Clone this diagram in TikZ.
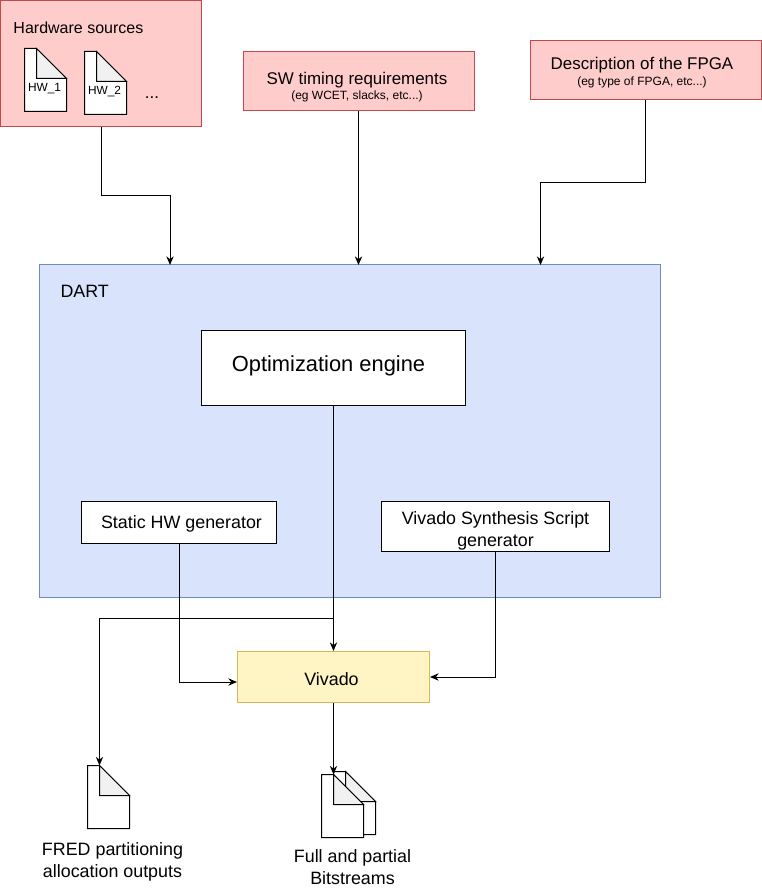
\documentclass[tikz,border=0pt]{standalone}
\usepackage{fontspec}
\setmainfont{Liberation Sans}
\usetikzlibrary{arrows.meta}
\definecolor{redfill}{HTML}{FFCCCC}
\definecolor{redline}{HTML}{C4474D}
\definecolor{bluefill}{HTML}{D9E4FC}
\definecolor{blueline}{HTML}{6C8EBF}
\definecolor{yellowfill}{HTML}{FFF4C3}
\definecolor{yellowline}{HTML}{D6B656}
\definecolor{foldfill}{HTML}{F1F1F1}
\tikzset{
  every picture/.style={line width=0.75pt},
  redbox/.style={draw=redline,fill=redfill,inner sep=0pt},
  dartbox/.style={draw=blueline,fill=bluefill,inner sep=0pt},
  whitebox/.style={draw=black,fill=white,inner sep=0pt},
  vivadobox/.style={draw=yellowline,fill=yellowfill,inner sep=0pt},
  txt/.style={inner sep=0pt,font=\fontsize{13.4}{16.5}\selectfont,align=center},
  redtxt/.style={inner sep=0pt,font=\fontsize{12.7}{16.5}\selectfont,align=center},
  smalltxt/.style={inner sep=0pt,font=\fontsize{9}{11}\selectfont,align=center},
  hwtxt/.style={inner sep=0pt,font=\fontsize{8.9}{10}\selectfont},
  conn/.style={draw=black,-{Stealth[length=6.5pt,width=5.5pt]}},
  notepic/.pic={
    \draw[fill=white] (0,0) -- (12,0) -- (42,30) -- (42,63) -- (0,63) -- cycle;
    \draw[fill=foldfill] (12,0) -- (42,30) -- (12,30) -- cycle;
    \coordinate (-top) at (12,0);
  }
}
\begin{document}
\begin{tikzpicture}[x=0.75pt,y=0.75pt,yscale=-1,xscale=1]
\useasboundingbox (0,0) rectangle (762,888);

% inputs
\node [redbox,minimum width=150.75pt,minimum height=94.5pt] (hwsrc) at (101,63.5) {};
\node [redbox,minimum width=173.25pt,minimum height=44.25pt] (swreq) at (358.5,81.5) {};
\node [redbox,minimum width=173.25pt,minimum height=44.25pt] (fpga) at (645.5,70.5) {};
\node [inner sep=0pt,font=\fontsize{12}{15}\selectfont,anchor=west] (hwlabel) at (13,27.5) {Hardware sources};
\pic [transform shape] (hwone) at (24.5,48.5) {notepic};
\pic [transform shape] (hwtwo) at (84.5,51.5) {notepic};
\node [hwtxt] (hwonetxt) at (44.5,88.5) {HW\_1};
\node [hwtxt] (hwtwotxt) at (104.5,92) {HW\_2};
\node [redtxt] (hwdots) at (152,98) {...};
\node [redtxt] (swlabel) at (357,80) {SW timing requirements};
\node [smalltxt] (swsub) at (357,96) {(eg WCET, slacks, etc...)};
\node [redtxt] (fpgalabel) at (642,65) {Description of the FPGA};
\node [smalltxt] (fpgasub) at (642,82) {(eg type of FPGA, etc...)};

% DART
\node [dartbox,minimum width=465.75pt,minimum height=249.75pt] (dart) at (350.25,431) {};
\node [txt,anchor=west] (dartlabel) at (60,291) {DART};
\node [whitebox,minimum width=198pt,minimum height=55.875pt] (optim) at (333.5,367.75) {};
\node [txt,font=\fontsize{16.4}{18}\selectfont] (optimlabel) at (328.5,366) {Optimization engine};
\node [whitebox,minimum width=146.25pt,minimum height=31.5pt] (statichw) at (179,522) {};
\node [txt] (statictxt) at (181.5,524) {Static HW generator};
\node [whitebox,minimum width=171pt,minimum height=37.5pt] (synth) at (495.5,526) {};
\node [txt] (synthtxt) at (495.5,531) {Vivado Synthesis Script\\generator};

% outputs
\node [vivadobox,minimum width=144pt,minimum height=38.25pt] (vivado) at (333.5,677) {};
\node [txt] (vivadotxt) at (331.5,679) {Vivado};
\pic [transform shape] (fred) at (87.5,765.5) {notepic};
\pic [transform shape] (bitback) at (333.5,771.5) {notepic};
\pic [transform shape] (bitfront) at (321.5,774.5) {notepic};
\node [txt] (fredtxt) at (112.5,862) {FRED partitioning\\allocation outputs};
\node [txt] (bittxt) at (352.5,867) {Full and partial\\Bitstreams};

% connectors
\coordinate (hwin) at (170,265);
\coordinate (swin) at (358.5,265);
\coordinate (fpgain) at (540.5,265);
\coordinate (split) at (333.5,618);
\draw [conn] (hwsrc.south) -- ++(0,68.5) -| (hwin);
\draw [conn] (swreq.south) -- (swin);
\draw [conn] (fpga.south) -- ++(0,82) -| (fpgain);
\draw [conn] (optim.south) -- (vivado.north);
\draw [conn] (split) -| (fred-top);
\draw [conn] (statichw.south) |- (vivado.west |- 0,682);
\draw [conn] (synth.south) |- (vivado.east);
\draw [conn] (vivado.south) -- (bitfront-top);

\end{tikzpicture}
\end{document}
